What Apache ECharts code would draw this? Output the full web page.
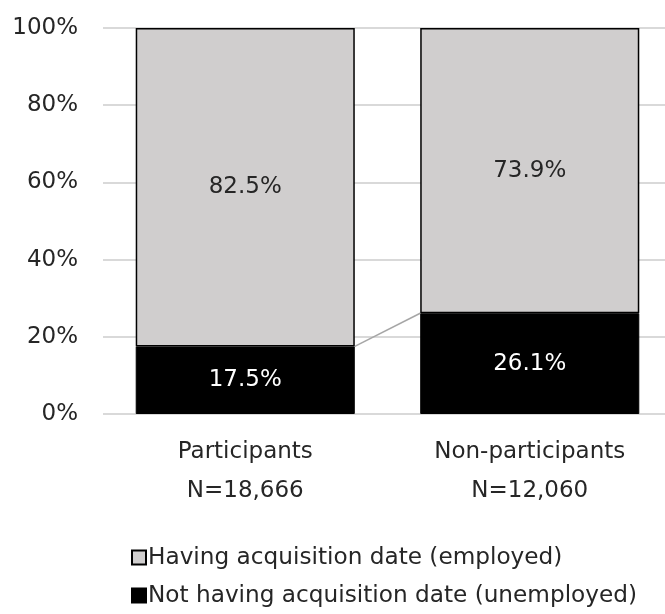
<!DOCTYPE html>
<html>
<head>
<meta charset="utf-8">
<script src="https://cdn.jsdelivr.net/npm/echarts@6/dist/echarts.min.js"></script>
<style>
  html, body { margin: 0; padding: 0; background: #fff; overflow: hidden; }
  #chart { width: 680px; height: 614px; }
</style>
</head>
<body>
<div id="chart"></div>
<script>
// Share of each group by acquisition-date status (percent)
const categories = ['Participants', 'Non-participants'];
const sampleSizes = ['N=18,666', 'N=12,060'];
const unemployed = [17.5, 26.1];
const employed = [82.5, 73.9];
const seriesNames = ['Having acquisition date (employed)', 'Not having acquisition date (unemployed)'];
const yTicks = [0, 20, 40, 60, 80, 100];

const FONT = 'DejaVu Sans';
const FONT_SIZE = 23;
const BAR_RATIO = 0.77;

const chart = echarts.init(document.getElementById('chart'), null, { renderer: 'canvas' });

// Connector segments between the tops of the lower segments of adjacent bars
const connectorData = [];
for (let i = 0; i < unemployed.length - 1; i++) {
  connectorData.push([i, unemployed[i], unemployed[i + 1]]);
}

chart.setOption({
  animation: false,
  backgroundColor: '#ffffff',
  textStyle: { fontFamily: FONT },
  grid: { left: 103, top: 28, width: 569, height: 386, containLabel: false },
  legend: {
    data: seriesNames,
    orient: 'vertical',
    left: 126,
    top: 541,
    itemWidth: 14,
    itemHeight: 14,
    itemGap: 15,
    icon: 'rect',
    textStyle: { fontFamily: FONT, fontSize: 23.2, color: '#262626', padding: [0, 0, 0, -3] }
  },
  xAxis: {
    type: 'category',
    data: categories,
    axisLine: { show: false },
    axisTick: { show: false },
    axisLabel: {
      fontFamily: FONT,
      fontSize: FONT_SIZE,
      color: '#262626',
      lineHeight: 39,
      margin: 19,
      formatter: (v, i) => v + '\n' + sampleSizes[i]
    }
  },
  yAxis: {
    type: 'value',
    min: 0,
    max: 100,
    interval: 20,
    axisLine: { show: false },
    axisTick: { show: false },
    splitLine: { lineStyle: { color: '#d9d9d9', width: 2 } },
    axisLabel: {
      fontFamily: FONT,
      fontSize: FONT_SIZE,
      color: '#262626',
      margin: 25,
      formatter: v => (yTicks.includes(v) ? v + '%' : '')
    }
  },
  series: [
    {
      name: seriesNames[1],
      type: 'bar',
      stack: 'total',
      data: unemployed,
      barWidth: (BAR_RATIO * 100) + '%',
      itemStyle: { color: '#000000', borderColor: '#000000', borderWidth: 1 },
      label: {
        show: true,
        position: 'inside',
        color: '#ffffff',
        fontFamily: FONT,
        fontSize: FONT_SIZE,
        formatter: p => p.value.toFixed(1) + '%'
      }
    },
    {
      name: seriesNames[0],
      type: 'bar',
      stack: 'total',
      data: employed,
      barWidth: (BAR_RATIO * 100) + '%',
      itemStyle: { color: '#d0cece', borderColor: '#000000', borderWidth: 1.5 },
      label: {
        show: true,
        position: 'inside',
        color: '#262626',
        fontFamily: FONT,
        fontSize: FONT_SIZE,
        formatter: p => p.value.toFixed(1) + '%'
      }
    },
    {
      type: 'custom',
      name: 'connector',
      data: connectorData,
      silent: true,
      z: 1,
      renderItem: function (params, api) {
        const i = api.value(0);
        const band = api.size([1, 0])[0];
        const half = band * BAR_RATIO / 2;
        const p0 = api.coord([i, api.value(1)]);
        const p1 = api.coord([i + 1, api.value(2)]);
        return {
          type: 'line',
          shape: { x1: p0[0] + half, y1: p0[1], x2: p1[0] - half, y2: p1[1] },
          style: { stroke: '#a6a6a6', lineWidth: 1.5 }
        };
      }
    }
  ]
});
</script>
</body>
</html>
